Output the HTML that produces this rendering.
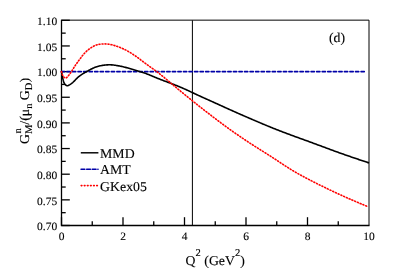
<!DOCTYPE html>
<html><head><meta charset="utf-8"><title>chart</title>
<style>
html,body{margin:0;padding:0;background:#fff;}
body{width:410px;height:277px;overflow:hidden;}
svg{display:block;will-change:transform;}
text{font-family:"Liberation Serif",serif;fill:#000;stroke:#000;stroke-width:0.12px;text-rendering:geometricPrecision;}
</style></head><body>
<svg width="410" height="277" viewBox="0 0 410 277">
<rect width="410" height="277" fill="#fff"/>
<!-- thin frame top/right -->
<path d="M61.5,20.150000000000002 H369.0 V225.5" fill="none" stroke="#000" stroke-width="1"/>
<!-- axes -->
<path d="M61.5,19.7 V225.5 H369.5" fill="none" stroke="#000" stroke-width="1.3"/>
<g stroke="#000" stroke-width="1.3">
<line x1="61.50" y1="225.50" x2="69.80" y2="225.50"/>
<line x1="61.50" y1="212.68" x2="65.70" y2="212.68"/>
<line x1="61.50" y1="199.85" x2="69.80" y2="199.85"/>
<line x1="61.50" y1="187.03" x2="65.70" y2="187.03"/>
<line x1="61.50" y1="174.20" x2="69.80" y2="174.20"/>
<line x1="61.50" y1="161.38" x2="65.70" y2="161.38"/>
<line x1="61.50" y1="148.55" x2="69.80" y2="148.55"/>
<line x1="61.50" y1="135.73" x2="65.70" y2="135.73"/>
<line x1="61.50" y1="122.90" x2="69.80" y2="122.90"/>
<line x1="61.50" y1="110.08" x2="65.70" y2="110.08"/>
<line x1="61.50" y1="97.25" x2="69.80" y2="97.25"/>
<line x1="61.50" y1="84.43" x2="65.70" y2="84.43"/>
<line x1="61.50" y1="71.60" x2="69.80" y2="71.60"/>
<line x1="61.50" y1="58.78" x2="65.70" y2="58.78"/>
<line x1="61.50" y1="45.95" x2="69.80" y2="45.95"/>
<line x1="61.50" y1="33.13" x2="65.70" y2="33.13"/>
<line x1="61.50" y1="20.30" x2="69.80" y2="20.30"/>
<line x1="61.50" y1="225.50" x2="61.50" y2="217.20"/>
<line x1="92.25" y1="225.50" x2="92.25" y2="221.30"/>
<line x1="123.00" y1="225.50" x2="123.00" y2="217.20"/>
<line x1="153.75" y1="225.50" x2="153.75" y2="221.30"/>
<line x1="184.50" y1="225.50" x2="184.50" y2="217.20"/>
<line x1="215.25" y1="225.50" x2="215.25" y2="221.30"/>
<line x1="246.00" y1="225.50" x2="246.00" y2="217.20"/>
<line x1="276.75" y1="225.50" x2="276.75" y2="221.30"/>
<line x1="307.50" y1="225.50" x2="307.50" y2="217.20"/>
<line x1="338.25" y1="225.50" x2="338.25" y2="221.30"/>
</g>
<!-- vertical marker -->
<line x1="192.4" y1="20.3" x2="192.4" y2="225.5" stroke="#000" stroke-width="1"/>
<!-- curves -->
<path d="M61.33,71.65 H364.3" fill="none" stroke="#0000a8" stroke-width="1.6" stroke-dasharray="3.3 2.25" stroke-linecap="round"/>
<path d="M61.50,71.50 L61.63,72.35 L61.76,73.20 L61.90,74.04 L62.05,74.89 L62.21,75.73 L62.37,76.57 L62.55,77.41 L62.74,78.25 L62.93,79.09 L63.15,79.92 L63.37,80.75 L63.61,81.57 L63.88,82.39 L64.22,83.18 L64.65,83.93 L65.20,84.63 L65.89,85.22 L66.66,85.61 L67.47,85.69 L68.28,85.47 L69.09,85.05 L69.86,84.58 L70.59,84.10 L71.30,83.61 L71.97,83.11 L72.63,82.58 L73.26,82.02 L73.87,81.43 L74.47,80.82 L75.07,80.19 L75.66,79.57 L76.26,78.94 L76.87,78.33 L77.49,77.73 L78.13,77.15 L78.78,76.60 L79.45,76.06 L80.14,75.55 L80.84,75.06 L81.55,74.58 L82.28,74.12 L83.01,73.67 L83.75,73.23 L84.49,72.80 L85.23,72.37 L85.98,71.94 L86.73,71.52 L87.48,71.10 L88.23,70.69 L88.98,70.27 L89.73,69.86 L90.49,69.46 L91.25,69.06 L92.02,68.68 L92.79,68.31 L93.58,67.96 L94.37,67.62 L95.17,67.31 L95.97,67.01 L96.79,66.74 L97.61,66.48 L98.43,66.25 L99.26,66.04 L100.10,65.84 L100.94,65.67 L101.79,65.51 L102.63,65.37 L103.48,65.25 L104.33,65.14 L105.19,65.05 L106.04,64.97 L106.90,64.90 L107.76,64.84 L108.61,64.81 L109.47,64.79 L110.33,64.81 L111.19,64.84 L112.04,64.90 L112.90,64.98 L113.75,65.08 L114.60,65.19 L115.45,65.32 L116.30,65.45 L117.15,65.59 L118.00,65.74 L118.84,65.90 L119.69,66.06 L120.53,66.22 L121.37,66.40 L122.21,66.58 L123.04,66.77 L123.88,66.97 L124.71,67.18 L125.54,67.39 L126.37,67.61 L127.20,67.84 L128.02,68.07 L128.85,68.31 L129.67,68.55 L130.50,68.79 L131.32,69.04 L132.14,69.28 L132.96,69.53 L133.78,69.78 L134.61,70.02 L135.43,70.27 L136.25,70.51 L137.07,70.76 L137.90,71.00 L138.72,71.23 L139.55,71.47 L140.37,71.71 L141.20,71.95 L142.02,72.20 L142.83,72.46 L143.65,72.73 L144.46,73.01 L145.26,73.29 L146.07,73.59 L146.87,73.89 L147.67,74.20 L148.47,74.52 L149.27,74.83 L150.06,75.16 L150.86,75.48 L151.65,75.81 L152.44,76.15 L153.24,76.48 L154.03,76.81 L154.82,77.15 L155.61,77.48 L156.40,77.81 L157.20,78.14 L157.99,78.47 L158.79,78.79 L159.58,79.11 L160.38,79.43 L161.18,79.74 L161.98,80.05 L162.79,80.35 L163.59,80.65 L164.39,80.95 L165.20,81.25 L166.00,81.55 L166.81,81.84 L167.61,82.14 L168.42,82.44 L169.22,82.74 L170.03,83.04 L170.83,83.34 L171.63,83.64 L172.44,83.95 L173.24,84.26 L174.04,84.57 L174.84,84.88 L175.63,85.20 L176.43,85.52 L177.23,85.84 L178.02,86.16 L178.81,86.49 L179.61,86.82 L180.40,87.15 L181.19,87.49 L181.98,87.83 L182.77,88.17 L183.55,88.51 L184.34,88.86 L185.12,89.21 L185.90,89.56 L186.69,89.91 L187.47,90.27 L188.24,90.63 L189.02,91.00 L189.80,91.36 L190.57,91.73 L191.35,92.10 L192.12,92.47 L192.90,92.84 L193.67,93.20 L194.45,93.57 L195.23,93.93 L196.01,94.29 L196.79,94.65 L197.56,95.01 L198.34,95.37 L199.12,95.73 L199.90,96.08 L200.69,96.44 L201.47,96.80 L202.25,97.15 L203.03,97.50 L203.81,97.86 L204.59,98.21 L205.38,98.56 L206.16,98.92 L206.94,99.27 L207.72,99.62 L208.51,99.97 L209.29,100.32 L210.07,100.68 L210.86,101.03 L211.64,101.38 L212.42,101.73 L213.20,102.09 L213.99,102.44 L214.77,102.79 L215.55,103.15 L216.33,103.50 L217.11,103.85 L217.89,104.21 L218.68,104.56 L219.46,104.92 L220.24,105.27 L221.02,105.63 L221.80,105.98 L222.58,106.34 L223.36,106.70 L224.14,107.05 L224.92,107.41 L225.71,107.76 L226.49,108.11 L227.27,108.47 L228.05,108.82 L228.83,109.18 L229.62,109.53 L230.40,109.88 L231.18,110.23 L231.96,110.59 L232.75,110.94 L233.53,111.29 L234.31,111.64 L235.10,111.99 L235.88,112.34 L236.66,112.68 L237.45,113.03 L238.24,113.38 L239.02,113.72 L239.81,114.07 L240.59,114.41 L241.38,114.75 L242.17,115.10 L242.95,115.44 L243.74,115.78 L244.53,116.12 L245.31,116.46 L246.10,116.80 L246.89,117.14 L247.68,117.48 L248.47,117.82 L249.25,118.16 L250.04,118.50 L250.83,118.84 L251.62,119.18 L252.41,119.52 L253.20,119.86 L253.99,120.19 L254.77,120.53 L255.56,120.87 L256.35,121.21 L257.14,121.54 L257.93,121.88 L258.72,122.22 L259.51,122.55 L260.30,122.89 L261.09,123.22 L261.88,123.56 L262.67,123.89 L263.47,124.22 L264.26,124.55 L265.05,124.88 L265.84,125.21 L266.63,125.54 L267.43,125.87 L268.22,126.20 L269.01,126.52 L269.81,126.85 L270.60,127.17 L271.40,127.49 L272.19,127.82 L272.99,128.14 L273.79,128.45 L274.58,128.77 L275.38,129.09 L276.18,129.40 L276.98,129.72 L277.78,130.03 L278.58,130.34 L279.38,130.65 L280.18,130.96 L280.98,131.27 L281.78,131.58 L282.58,131.88 L283.38,132.19 L284.19,132.49 L284.99,132.79 L285.79,133.10 L286.60,133.40 L287.40,133.70 L288.20,134.00 L289.01,134.30 L289.81,134.60 L290.62,134.90 L291.42,135.19 L292.23,135.49 L293.03,135.79 L293.84,136.08 L294.64,136.38 L295.45,136.67 L296.26,136.97 L297.06,137.26 L297.87,137.55 L298.68,137.85 L299.48,138.14 L300.29,138.43 L301.09,138.73 L301.90,139.02 L302.71,139.31 L303.51,139.61 L304.32,139.90 L305.13,140.19 L305.93,140.48 L306.74,140.78 L307.55,141.07 L308.35,141.37 L309.16,141.66 L309.97,141.95 L310.77,142.25 L311.58,142.54 L312.38,142.84 L313.19,143.14 L313.99,143.43 L314.80,143.73 L315.60,144.03 L316.41,144.33 L317.21,144.63 L318.02,144.92 L318.82,145.22 L319.63,145.52 L320.43,145.82 L321.23,146.12 L322.04,146.42 L322.84,146.72 L323.65,147.02 L324.45,147.32 L325.26,147.62 L326.06,147.91 L326.87,148.21 L327.67,148.51 L328.47,148.81 L329.28,149.11 L330.08,149.40 L330.89,149.70 L331.70,149.99 L332.50,150.29 L333.31,150.58 L334.11,150.88 L334.92,151.17 L335.73,151.46 L336.53,151.76 L337.34,152.05 L338.15,152.34 L338.96,152.63 L339.76,152.92 L340.57,153.20 L341.38,153.49 L342.19,153.78 L343.00,154.06 L343.81,154.35 L344.62,154.64 L345.43,154.92 L346.24,155.20 L347.05,155.49 L347.86,155.77 L348.67,156.05 L349.48,156.33 L350.29,156.61 L351.10,156.89 L351.91,157.17 L352.73,157.45 L353.54,157.73 L354.35,158.01 L355.16,158.28 L355.97,158.56 L356.79,158.83 L357.60,159.11 L358.41,159.38 L359.23,159.66 L360.04,159.93 L360.85,160.20 L361.67,160.48 L362.48,160.75 L363.30,161.02 L364.11,161.29 L364.92,161.56 L365.74,161.83 L366.55,162.10 L367.37,162.37 L368.18,162.63 L369.00,162.90" fill="none" stroke="#000" stroke-width="1.6" stroke-linejoin="round"/>
<path d="M61.50,71.50 L61.54,72.01 L61.73,72.81 L62.07,73.79 L62.52,74.87 L63.07,75.93 L63.71,76.88 L64.40,77.62 L65.12,78.04 L65.87,78.05 L66.61,77.66 L67.34,77.00 L68.04,76.18 L68.70,75.34 L69.31,74.55 L69.89,73.80 L70.42,73.07 L70.94,72.34 L71.44,71.59 L71.93,70.82 L72.41,70.03 L72.90,69.22 L73.39,68.41 L73.89,67.61 L74.40,66.82 L74.91,66.04 L75.43,65.26 L75.96,64.49 L76.50,63.73 L77.03,62.97 L77.58,62.21 L78.12,61.45 L78.67,60.70 L79.22,59.95 L79.77,59.19 L80.33,58.44 L80.89,57.68 L81.45,56.94 L82.02,56.19 L82.60,55.46 L83.20,54.74 L83.80,54.02 L84.42,53.33 L85.06,52.65 L85.72,51.98 L86.39,51.34 L87.09,50.72 L87.80,50.11 L88.53,49.53 L89.28,48.96 L90.04,48.42 L90.82,47.89 L91.61,47.38 L92.41,46.89 L93.23,46.42 L94.06,45.98 L94.91,45.58 L95.77,45.22 L96.65,44.91 L97.54,44.65 L98.45,44.45 L99.38,44.30 L100.31,44.17 L101.24,44.08 L102.17,44.00 L103.11,43.94 L104.04,43.91 L104.97,43.90 L105.91,43.93 L106.84,43.99 L107.77,44.07 L108.70,44.19 L109.63,44.33 L110.55,44.51 L111.46,44.70 L112.37,44.92 L113.27,45.16 L114.17,45.42 L115.06,45.70 L115.96,45.99 L116.84,46.28 L117.73,46.59 L118.61,46.90 L119.49,47.23 L120.36,47.57 L121.22,47.92 L122.09,48.28 L122.94,48.66 L123.79,49.05 L124.63,49.45 L125.46,49.88 L126.29,50.31 L127.11,50.76 L127.92,51.22 L128.73,51.69 L129.54,52.17 L130.33,52.66 L131.13,53.15 L131.92,53.66 L132.70,54.17 L133.48,54.68 L134.26,55.20 L135.03,55.73 L135.80,56.26 L136.56,56.79 L137.33,57.34 L138.08,57.88 L138.84,58.44 L139.59,58.99 L140.34,59.55 L141.08,60.12 L141.82,60.68 L142.56,61.25 L143.31,61.82 L144.05,62.39 L144.80,62.95 L145.55,63.51 L146.30,64.06 L147.05,64.61 L147.81,65.16 L148.57,65.71 L149.32,66.25 L150.08,66.80 L150.84,67.34 L151.60,67.89 L152.36,68.43 L153.12,68.98 L153.88,69.53 L154.64,70.07 L155.39,70.63 L156.14,71.18 L156.89,71.74 L157.63,72.30 L158.38,72.87 L159.12,73.44 L159.85,74.02 L160.59,74.60 L161.32,75.18 L162.05,75.76 L162.77,76.35 L163.50,76.94 L164.22,77.53 L164.94,78.13 L165.66,78.72 L166.38,79.32 L167.10,79.92 L167.81,80.52 L168.53,81.12 L169.25,81.72 L169.96,82.32 L170.68,82.93 L171.39,83.53 L172.11,84.13 L172.82,84.73 L173.54,85.33 L174.25,85.93 L174.97,86.54 L175.68,87.14 L176.40,87.73 L177.12,88.33 L177.83,88.93 L178.55,89.53 L179.27,90.13 L179.99,90.72 L180.71,91.32 L181.43,91.91 L182.16,92.50 L182.88,93.10 L183.60,93.69 L184.33,94.28 L185.05,94.87 L185.77,95.46 L186.50,96.05 L187.23,96.64 L187.95,97.22 L188.68,97.81 L189.41,98.40 L190.14,98.98 L190.86,99.57 L191.59,100.15 L192.32,100.74 L193.05,101.32 L193.78,101.90 L194.51,102.49 L195.24,103.07 L195.97,103.65 L196.71,104.23 L197.44,104.81 L198.17,105.39 L198.90,105.97 L199.64,106.55 L200.37,107.13 L201.11,107.71 L201.84,108.28 L202.58,108.86 L203.31,109.44 L204.05,110.01 L204.79,110.59 L205.52,111.16 L206.26,111.73 L207.00,112.31 L207.74,112.88 L208.48,113.45 L209.22,114.02 L209.96,114.59 L210.70,115.16 L211.44,115.73 L212.18,116.29 L212.93,116.86 L213.67,117.43 L214.42,117.99 L215.16,118.56 L215.91,119.12 L216.65,119.68 L217.40,120.24 L218.15,120.80 L218.89,121.36 L219.64,121.92 L220.39,122.48 L221.14,123.04 L221.89,123.60 L222.65,124.15 L223.40,124.71 L224.15,125.26 L224.90,125.81 L225.66,126.36 L226.41,126.91 L227.17,127.46 L227.93,128.01 L228.69,128.56 L229.44,129.10 L230.20,129.65 L230.96,130.19 L231.73,130.73 L232.49,131.27 L233.25,131.81 L234.01,132.35 L234.78,132.89 L235.55,133.42 L236.31,133.96 L237.08,134.49 L237.85,135.02 L238.62,135.55 L239.39,136.08 L240.16,136.61 L240.93,137.13 L241.70,137.66 L242.48,138.18 L243.25,138.70 L244.03,139.23 L244.81,139.75 L245.58,140.26 L246.36,140.78 L247.14,141.30 L247.92,141.81 L248.70,142.32 L249.49,142.83 L250.27,143.34 L251.05,143.85 L251.84,144.36 L252.62,144.87 L253.41,145.37 L254.20,145.87 L254.98,146.38 L255.77,146.88 L256.56,147.38 L257.35,147.88 L258.14,148.38 L258.93,148.88 L259.72,149.37 L260.51,149.87 L261.30,150.37 L262.09,150.87 L262.88,151.37 L263.67,151.86 L264.46,152.36 L265.25,152.86 L266.04,153.36 L266.83,153.86 L267.62,154.36 L268.41,154.86 L269.20,155.37 L269.99,155.87 L270.77,156.37 L271.56,156.88 L272.34,157.39 L273.13,157.90 L273.91,158.41 L274.69,158.92 L275.47,159.43 L276.25,159.95 L277.03,160.46 L277.81,160.98 L278.59,161.50 L279.37,162.01 L280.15,162.53 L280.93,163.05 L281.71,163.56 L282.49,164.08 L283.27,164.59 L284.05,165.10 L284.83,165.61 L285.62,166.12 L286.40,166.63 L287.19,167.13 L287.98,167.63 L288.77,168.13 L289.56,168.63 L290.35,169.12 L291.15,169.61 L291.95,170.09 L292.75,170.57 L293.55,171.05 L294.36,171.52 L295.16,171.99 L295.97,172.46 L296.78,172.93 L297.59,173.39 L298.41,173.85 L299.22,174.31 L300.04,174.76 L300.86,175.21 L301.68,175.66 L302.50,176.11 L303.32,176.55 L304.14,177.00 L304.97,177.44 L305.79,177.88 L306.62,178.31 L307.45,178.75 L308.28,179.18 L309.11,179.61 L309.94,180.04 L310.77,180.47 L311.60,180.90 L312.43,181.32 L313.27,181.75 L314.10,182.17 L314.93,182.59 L315.77,183.01 L316.60,183.43 L317.44,183.85 L318.28,184.27 L319.11,184.68 L319.95,185.10 L320.79,185.51 L321.63,185.92 L322.47,186.33 L323.31,186.74 L324.15,187.15 L324.99,187.56 L325.83,187.97 L326.67,188.37 L327.51,188.78 L328.35,189.18 L329.20,189.58 L330.04,189.98 L330.89,190.38 L331.73,190.78 L332.58,191.18 L333.42,191.58 L334.27,191.97 L335.12,192.37 L335.96,192.76 L336.81,193.15 L337.66,193.54 L338.51,193.93 L339.36,194.32 L340.21,194.71 L341.06,195.10 L341.91,195.48 L342.76,195.87 L343.61,196.25 L344.47,196.64 L345.32,197.02 L346.17,197.40 L347.03,197.78 L347.88,198.16 L348.74,198.53 L349.59,198.91 L350.45,199.28 L351.30,199.66 L352.16,200.03 L353.02,200.40 L353.88,200.77 L354.73,201.14 L355.59,201.51 L356.45,201.88 L357.31,202.25 L358.17,202.61 L359.03,202.97 L359.89,203.34 L360.76,203.70 L361.62,204.06 L362.48,204.42 L363.34,204.78 L364.21,205.13 L365.07,205.49 L365.94,205.85 L366.80,206.20" fill="none" stroke="#ff0000" stroke-width="1.6" stroke-dasharray="1.0 2.0" stroke-linecap="round" stroke-linejoin="round"/>
<g font-size="11.5">
<text transform="translate(57.2,230.20) scale(1,0.99)" text-anchor="end">0.70</text>
<text transform="translate(57.2,204.55) scale(1,0.99)" text-anchor="end">0.75</text>
<text transform="translate(57.2,178.90) scale(1,0.99)" text-anchor="end">0.80</text>
<text transform="translate(57.2,153.25) scale(1,0.99)" text-anchor="end">0.85</text>
<text transform="translate(57.2,127.60) scale(1,0.99)" text-anchor="end">0.90</text>
<text transform="translate(57.2,101.95) scale(1,0.99)" text-anchor="end">0.95</text>
<text transform="translate(57.2,76.30) scale(1,0.99)" text-anchor="end">1.00</text>
<text transform="translate(57.2,50.65) scale(1,0.99)" text-anchor="end">1.05</text>
<text transform="translate(57.2,25.00) scale(1,0.99)" text-anchor="end">1.10</text>
<text transform="translate(61.50,240) scale(1,0.99)" text-anchor="middle">0</text>
<text transform="translate(123.00,240) scale(1,0.99)" text-anchor="middle">2</text>
<text transform="translate(184.50,240) scale(1,0.99)" text-anchor="middle">4</text>
<text transform="translate(246.00,240) scale(1,0.99)" text-anchor="middle">6</text>
<text transform="translate(307.50,240) scale(1,0.99)" text-anchor="middle">8</text>
<text transform="translate(369.00,240) scale(1,0.99)" text-anchor="middle">10</text>
</g>
<!-- legend -->
<line x1="80.8" y1="152.8" x2="98.4" y2="152.8" stroke="#000" stroke-width="1.45"/>
<line x1="81.1" y1="169.2" x2="98.0" y2="169.2" stroke="#0000a8" stroke-width="1.65" stroke-dasharray="3.7 1.9" stroke-linecap="round"/>
<line x1="81.2" y1="185.6" x2="98.5" y2="185.6" stroke="#ff0000" stroke-width="1.6" stroke-dasharray="0.7 2.4" stroke-linecap="round"/>
<g font-size="13.8">
<text transform="translate(100.1,157.7) scale(1,0.98)">MMD</text>
<text transform="translate(100.1,173.9) scale(1,0.98)">AMT</text>
<text transform="translate(100.1,190.5) scale(1,0.98)">GKex05</text>
<text transform="translate(336.95,42.3) scale(1,0.98)" text-anchor="middle">(d)</text>
<text transform="translate(185.6,264.6) scale(1,0.98)">Q<tspan font-size="10.6" dy="-8.9">2</tspan><tspan dy="8.9"> (GeV</tspan><tspan font-size="10.6" dy="-8.9">2</tspan><tspan dy="8.9">)</tspan></text>
<g transform="translate(28.5,144.0) rotate(-90) scale(1,0.98)">
<text x="0" y="0">G<tspan font-size="10.5" dy="3.2">M</tspan><tspan dy="-3.2">/(μ</tspan><tspan font-size="10.5" dy="3.2">n</tspan><tspan dy="-3.2"> G</tspan><tspan font-size="10.5" dy="3.2">D</tspan><tspan dy="-3.2">)</tspan></text>
<text x="10.6" y="-8.0" font-size="10.5">n</text>
</g>
</g>
</svg>
</body></html>
